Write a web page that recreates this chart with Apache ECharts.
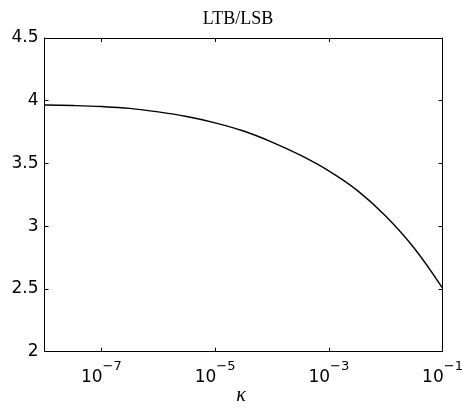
<!DOCTYPE html>
<html>
<head>
<meta charset="utf-8">
<script src="https://cdn.jsdelivr.net/npm/echarts@6/dist/echarts.min.js"></script>
<style>
html,body{margin:0;padding:0;background:#fff;}
#chart{width:462px;height:409px;}
</style>
</head>
<body>
<div id="chart"></div>
<script>
// log10(kappa) exponents and LTB/LSB values
var kappaExp = [-8, -7.5, -7, -6.5, -6, -5.5, -5, -4.5, -4, -3.5, -3, -2.5, -2, -1.5, -1];
var ratio = [3.966, 3.962, 3.954, 3.939, 3.911, 3.874, 3.824, 3.759, 3.671, 3.566, 3.441, 3.286, 3.081, 2.826, 2.506];
var xTickExp = [-7, -5, -3, -1];
var yTicks = [2, 2.5, 3, 3.5, 4, 4.5];
var titleText = 'LTB/LSB';
var xName = 'κ';

var data = kappaExp.map(function (e, i) { return [e, ratio[i]]; });

var chart = echarts.init(document.getElementById('chart'));
var tickStyle = { show: true, inside: true, length: 4, lineStyle: { color: '#000', width: 1 } };
chart.setOption({
  animation: false,
  title: {
    text: titleText,
    left: 233, top: 5,
    textAlign: 'center',
    textStyle: { fontFamily: 'Liberation Serif', fontWeight: 'normal', fontSize: 18, color: '#000' }
  },
  grid: { left: 44.5, right: 19.5, top: 38, bottom: 57.3, show: false, containLabel: false, outerBoundsMode: 'none' },
  graphic: [{
    type: 'text',
    style: { x: 241, y: 396, text: xName, align: 'center', verticalAlign: 'middle',
             font: 'italic 20px "Liberation Serif"', fill: '#000' }
  }],
  xAxis: [{
    type: 'value', min: -8, max: -1, position: 'bottom',
    axisLine: { show: true, onZero: false, lineStyle: { color: '#000', width: 1 } },
    axisTick: Object.assign({ customValues: xTickExp }, tickStyle),
    splitLine: { show: false },
    axisLabel: {
      customValues: xTickExp,
      margin: 8,
      formatter: function (v) { return '{b|10}{s|' + String(v).replace('-', '−') + '}'; },
      rich: {
        b: { fontFamily: 'DejaVu Sans', fontSize: 17, color: '#000', lineHeight: 26, verticalAlign: 'bottom' },
        s: { fontFamily: 'DejaVu Sans', fontSize: 13, color: '#000', verticalAlign: 'top', lineHeight: 26 }
      }
    }
  }, {
    type: 'value', min: -8, max: -1, position: 'top',
    axisLine: { show: true, onZero: false, lineStyle: { color: '#000', width: 1 } },
    axisTick: Object.assign({ customValues: xTickExp }, tickStyle),
    axisLabel: { show: false },
    splitLine: { show: false }
  }],
  yAxis: [{
    type: 'value', min: 2, max: 4.5, interval: 0.5, position: 'left',
    axisLine: { show: true, onZero: false, lineStyle: { color: '#000', width: 1 } },
    axisTick: tickStyle,
    splitLine: { show: false },
    axisLabel: {
      margin: 6,
      color: '#000', fontFamily: 'DejaVu Sans', fontSize: 17,
      formatter: function (v) { return yTicks.indexOf(v) >= 0 ? String(v) : ''; }
    }
  }, {
    type: 'value', min: 2, max: 4.5, interval: 0.5, position: 'right',
    axisLine: { show: true, onZero: false, lineStyle: { color: '#000', width: 1 } },
    axisTick: tickStyle,
    axisLabel: { show: false },
    splitLine: { show: false }
  }],
  series: [{
    type: 'line', data: data, smooth: 0.4, showSymbol: false,
    xAxisIndex: 0, yAxisIndex: 0,
    lineStyle: { color: '#000', width: 1.4 }
  }]
});
</script>
</body>
</html>
